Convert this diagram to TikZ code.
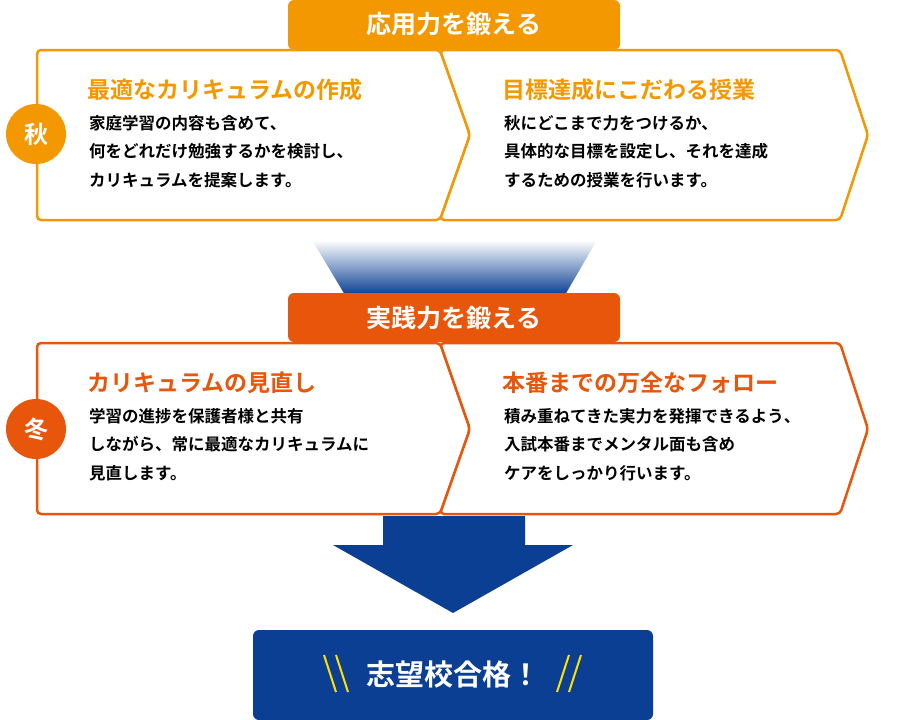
\documentclass[tikz,border=0pt]{standalone}
\usepackage{fontspec}
\newfontfamily\jp{Noto Sans CJK JP}[BoldFont={Noto Sans CJK JP Bold}]
\usetikzlibrary{positioning}
\definecolor{AutumnOrange}{HTML}{F39800}
\definecolor{WinterOrange}{HTML}{E8560B}
\definecolor{GoalNavy}{HTML}{0A3F93}
\definecolor{GoalYellow}{HTML}{FFE100}
\tikzset{
  tab/.style={text=white, font=\jp\bfseries\fontsize{25}{25}\selectfont},
  title/.style={anchor=west, font=\jp\bfseries\fontsize{23}{23}\selectfont},
  body/.style={anchor=north west, align=left, inner sep=0pt, font=\jp\bfseries\fontsize{16.5}{28.5}\selectfont},
  season/.style={circle, minimum size=60pt, text=white, font=\jp\bfseries\fontsize{24}{24}\selectfont},
}
\begin{document}
\begin{tikzpicture}[x=1pt,y=-1pt]
\useasboundingbox (0,0) rectangle (900,720);
% Autumn
\fill[AutumnOrange, rounded corners=6pt] (288,50) -- (288,0) -- (620,0) -- (620,50) -- cycle;
\node[tab] (tabA) at (454,24) {応用力を鍛える};
\draw[AutumnOrange, line width=2.5pt, fill=white, rounded corners=4pt] (37,50) -- (440,50) -- (470,135) -- (440,220) -- (37,220) -- cycle;
\draw[AutumnOrange, line width=2.5pt, fill=white, rounded corners=4pt] (440,50) -- (840,50) -- (868,135) -- (840,220) -- (440,220) -- (470,135) -- cycle;
\node[season, fill=AutumnOrange] (aki) at (36,134) {秋};
\node[title, text=AutumnOrange] (titleA1) at (84,90) {最適なカリキュラムの作成};
\node[body] (bodyA1) at (89,115) {家庭学習の内容も含めて、\\何をどれだけ勉強するかを検討し、\\カリキュラムを提案します。};
\node[title, text=AutumnOrange] (titleA2) at (499,90) {目標達成にこだわる授業};
\node[body] (bodyA2) at (504,115) {秋にどこまで力をつけるか、\\具体的な目標を設定し、それを達成\\するための授業を行います。};
% Funnel
\shade[top color=white, bottom color=GoalNavy] (312,240) -- (597,240) -- (565,295) -- (345,295) -- cycle;
% Winter
\fill[WinterOrange, rounded corners=6pt] (288,342) -- (288,293) -- (620,293) -- (620,342) -- cycle;
\node[tab] (tabW) at (454,318) {実践力を鍛える};
\draw[WinterOrange, line width=2.5pt, fill=white, rounded corners=4pt] (37,343) -- (440,343) -- (470,429) -- (440,514) -- (37,514) -- cycle;
\draw[WinterOrange, line width=2.5pt, fill=white, rounded corners=4pt] (440,343) -- (840,343) -- (868,429) -- (840,514) -- (440,514) -- (470,429) -- cycle;
\node[season, fill=WinterOrange] (fuyu) at (36,429) {冬};
\node[title, text=WinterOrange] (titleW1) at (84,383) {カリキュラムの見直し};
\node[body] (bodyW1) at (89,408) {学習の進捗を保護者様と共有\\しながら、常に最適なカリキュラムに\\見直します。};
\node[title, text=WinterOrange] (titleW2) at (499,383) {本番までの万全なフォロー};
\node[body] (bodyW2) at (504,408) {積み重ねてきた実力を発揮できるよう、\\入試本番までメンタル面も含め\\ケアをしっかり行います。};
% Arrow and goal
\fill[GoalNavy] (383,516) -- (525,516) -- (525,545) -- (573,545) -- (453,613) -- (333,545) -- (383,545) -- cycle;
\fill[GoalNavy, rounded corners=6pt] (253,630) rectangle (653,720);
\node[text=white, font=\jp\bfseries\fontsize{29}{29}\selectfont] (goal) at (453,675) {志望校合格！};
\foreach \dx in {0,12} {
  \draw[GoalYellow, line width=2pt] (324+\dx,655) -- (336+\dx,692);
  \draw[GoalYellow, line width=2pt] (581-\dx,655) -- (569-\dx,692);
}
\end{tikzpicture}
\end{document}
